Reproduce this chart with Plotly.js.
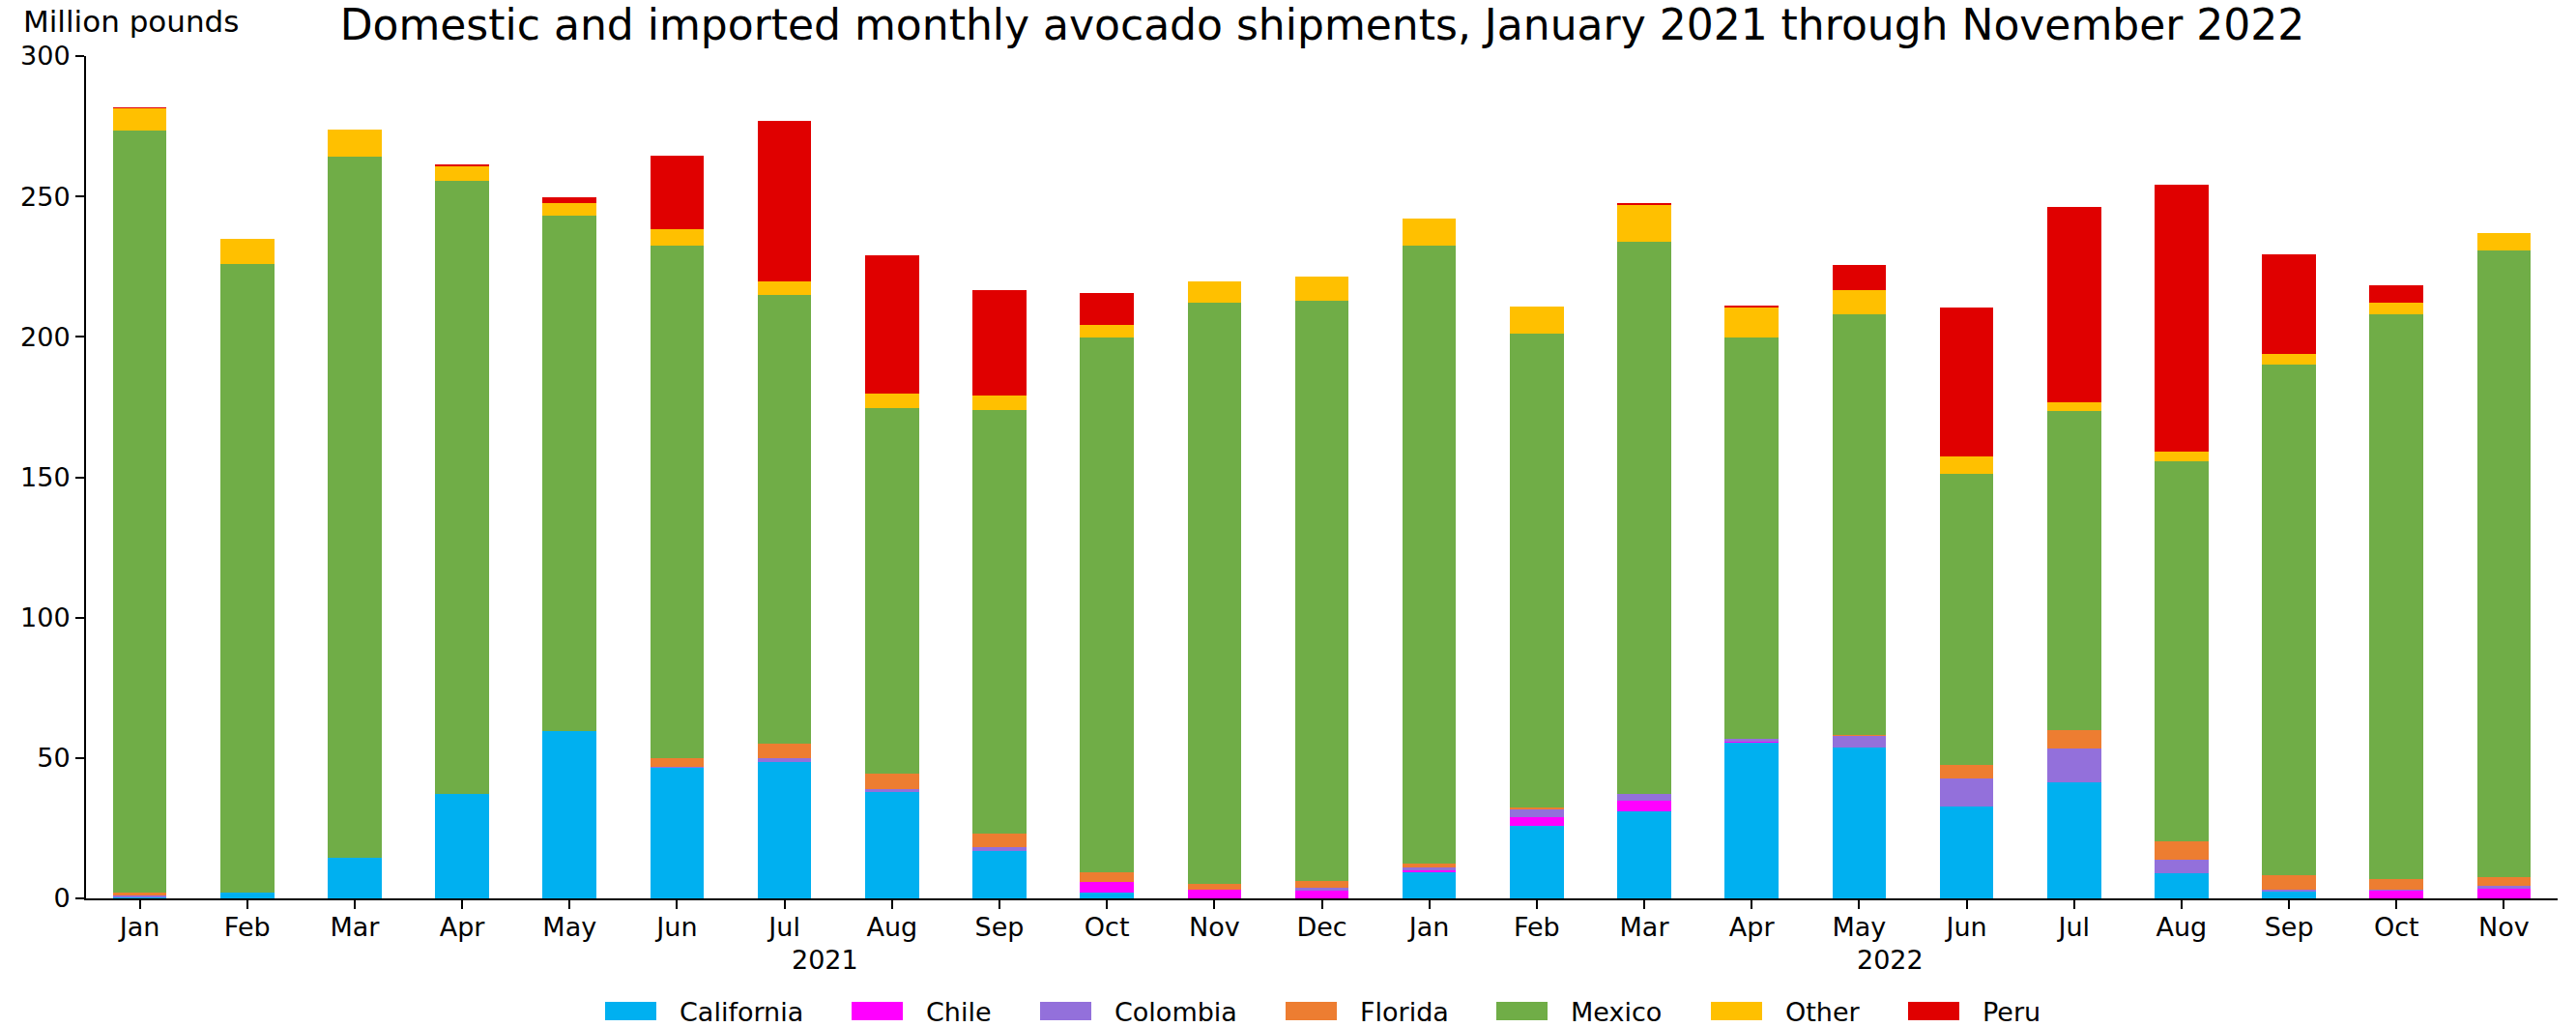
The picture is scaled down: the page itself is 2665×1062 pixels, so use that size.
<!DOCTYPE html>
<html>
<head>
<meta charset="utf-8">
<script src="https://cdn.plot.ly/plotly-3.0.1.min.js"></script>
<style>html,body{margin:0;padding:0;background:#fff;}#chart{width:2665px;height:1062px;}</style>
</head>
<body>
<div id="chart"></div>
<script>
const monthLabels = ['Jan','Feb','Mar','Apr','May','Jun','Jul','Aug','Sep','Oct','Nov','Dec',
                     'Jan','Feb','Mar','Apr','May','Jun','Jul','Aug','Sep','Oct','Nov'];
const yearLabels = ['2021', '2022'];
const yearLabelPos = [6.38, 16.29];

const california = [0.2,2.0,14.3,37.1,59.5,46.5,48.5,37.8,16.9,2.1,0,0,9.4,25.9,30.9,55.4,53.6,32.7,41.2,8.9,2.5,0,0];
const chile      = [0,0,0,0,0,0,0,0,0,3.8,3.1,2.7,0.6,3.0,3.9,0.4,0,0,0,0,0,2.7,3.4];
const colombia   = [0.8,0,0.3,0,0,0.5,1.4,1.1,1.4,0,0,1.2,1.0,2.7,2.3,1.2,4.1,9.9,12.2,4.8,0.6,0.4,1.2];
const florida    = [1.0,0,0,0,0,2.9,5.1,5.5,4.8,3.5,2.2,2.3,1.4,0.7,0,0,0.5,4.8,6.4,6.7,5.1,3.8,3.0];
const mexico     = [271.5,224.1,249.7,218.6,183.8,182.7,159.8,130.3,150.8,190.3,206.7,206.5,220.2,168.7,196.9,142.9,149.7,103.8,113.7,135.2,181.8,201.3,223.3];
const other      = [7.9,8.9,9.6,5.1,4.5,5.9,4.8,5.0,5.1,4.4,7.9,8.9,9.7,9.7,13.1,10.4,8.9,6.1,3.1,3.5,3.8,3.9,6.1];
const peru       = [0.5,0,0,0.7,2.0,26.1,57.4,49.2,37.5,11.4,0,0,0,0,0.7,1.0,8.7,53.0,69.8,95.2,35.7,6.1,0];

const seriesNames  = ['California','Chile','Colombia','Florida','Mexico','Other','Peru'];
const seriesValues = [california, chile, colombia, florida, mexico, other, peru];
const seriesColors = ['#00B0F0','#FF00FF','#9370DB','#ED7D31','#70AD47','#FFC000','#E00000'];

const xIdx = monthLabels.map((_, i) => i);

const traces = seriesNames.map((name, k) => ({
  type: 'bar',
  name: name,
  x: xIdx,
  y: seriesValues[k],
  marker: {color: seriesColors[k], line: {width: 0}},
  showlegend: false
}));

// plot area geometry (px)
const W = 2665, H = 1062;
const mL = 89, mR = 19, mT = 58, mB = 133;
const pw = W - mL - mR, ph = H - mT - mB;
const px2x = p => (p - mL) / pw;
const py2y = p => (H - mB - p) / ph;

const FONT = 'DejaVu Sans';

const annotations = [
  {text: 'Million pounds', xref: 'paper', yref: 'paper', x: px2x(22), y: py2y(22),
   xanchor: 'left', yanchor: 'middle', showarrow: false, font: {family: FONT, size: 31, color: '#000'}}
];
yearLabels.forEach((t, i) => annotations.push({
  text: t, xref: 'x', yref: 'paper', x: yearLabelPos[i], y: py2y(993),
  xanchor: 'center', yanchor: 'middle', showarrow: false, font: {family: FONT, size: 27, color: '#000'}
}));

// custom legend (wide matplotlib-style swatches)
const legendSwatchX = [626, 881, 1076, 1330, 1548, 1770, 1974];
const shapes = [];
seriesNames.forEach((name, k) => {
  const x0 = legendSwatchX[k];
  shapes.push({type: 'rect', xref: 'paper', yref: 'paper',
    x0: px2x(x0), x1: px2x(x0 + 53), y0: py2y(1036), y1: py2y(1055),
    fillcolor: seriesColors[k], line: {width: 0}});
  annotations.push({text: name, xref: 'paper', yref: 'paper', x: px2x(x0 + 75), y: py2y(1046),
    xanchor: 'left', yanchor: 'middle', showarrow: false, font: {family: FONT, size: 27, color: '#000'}});
});

const layout = {
  width: W, height: H,
  margin: {l: mL, r: mR, t: mT, b: mB, pad: 0},
  paper_bgcolor: '#fff', plot_bgcolor: '#fff',
  font: {family: FONT, size: 27, color: '#000'},
  barmode: 'stack',
  bargap: 0.5,
  title: {text: 'Domestic and imported monthly avocado shipments, January 2021 through November 2022',
          font: {family: FONT, size: 44, color: '#000'},
          x: px2x(1368), xanchor: 'center', xref: 'paper',
          y: 1 - 26 / H, yanchor: 'middle', yref: 'container'},
  xaxis: {
    range: [-0.5, 22.5], tickmode: 'array', tickvals: xIdx, ticktext: monthLabels,
    showgrid: false, zeroline: false, showline: true, linecolor: '#000', linewidth: 2,
    ticks: 'outside', ticklen: 9, tickwidth: 2, tickcolor: '#000', ticklabelstandoff: -4,
    tickfont: {family: FONT, size: 27, color: '#000'}, fixedrange: true
  },
  yaxis: {
    range: [0, 300], tickmode: 'linear', tick0: 0, dtick: 50,
    showgrid: false, zeroline: false, showline: true, linecolor: '#000', linewidth: 2,
    ticks: 'outside', ticklen: 9, tickwidth: 2, tickcolor: '#000',
    tickfont: {family: FONT, size: 27, color: '#000'}, fixedrange: true
  },
  annotations: annotations,
  shapes: shapes,
  showlegend: false
};

Plotly.newPlot('chart', traces, layout, {staticPlot: true, displayModeBar: false});
</script>
</body>
</html>
